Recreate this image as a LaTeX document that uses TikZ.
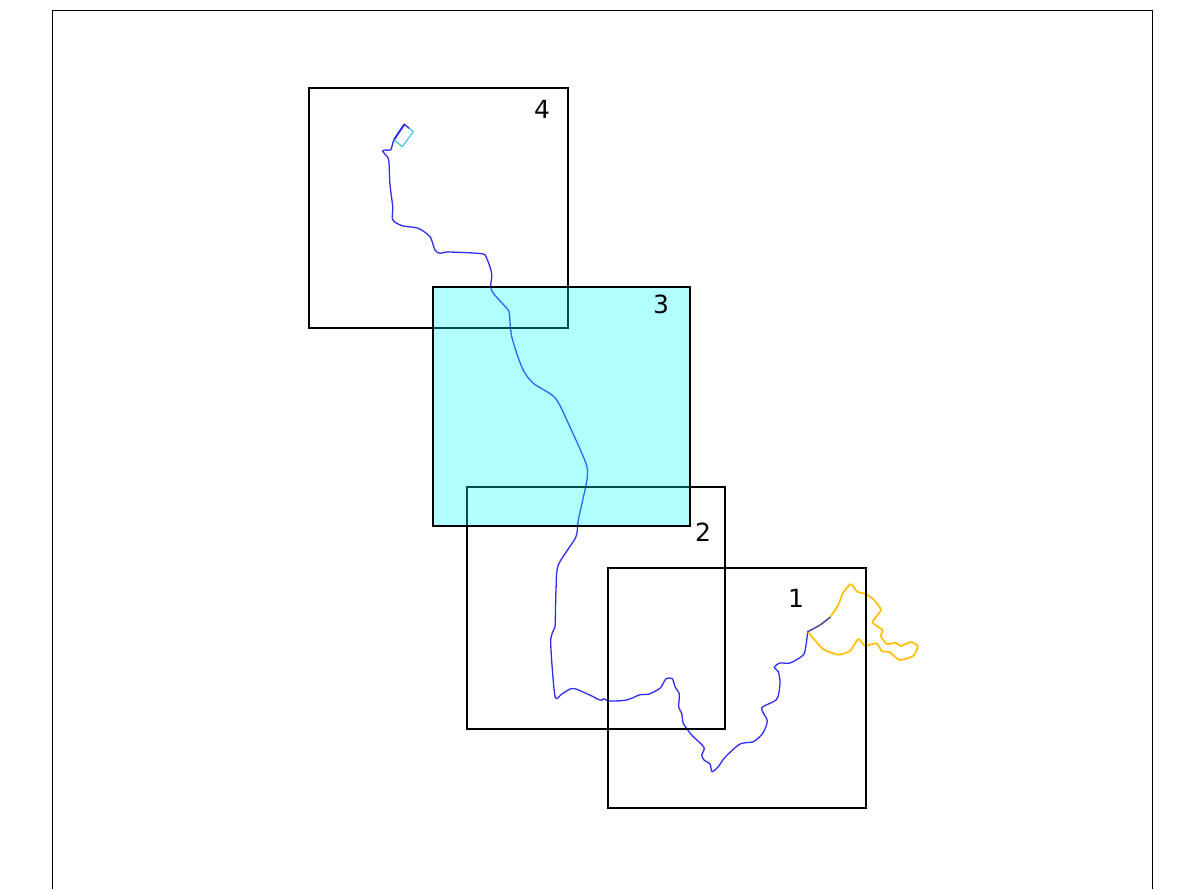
\documentclass[tikz,border=0pt]{standalone}
\usepackage{fontspec}
\setmainfont{DejaVu Sans}
\definecolor{routeblue}{RGB}{45,45,245}
\definecolor{routeorange}{RGB}{255,192,0}
\definecolor{routecyan}{RGB}{40,190,240}
\definecolor{routepurple}{RGB}{85,65,160}
\definecolor{tilecyan}{RGB}{0,255,255}
\tikzset{
  tile/.style={draw=black,line width=1.6pt},
  tilelabel/.style={inner sep=0pt,font=\fontsize{25}{25}\selectfont},
  route/.style={draw=routeblue,line width=1.3pt,line join=round,line cap=round},
}
\begin{document}
\begin{tikzpicture}[x=1pt,y=-1pt]
\useasboundingbox (0,0) rectangle (1177,889);
\fill[white] (0,0) rectangle (1177,889);
% frame
\draw[black,line width=0.8pt] (52,889) -- (52,10) -- (1152,10) -- (1152,889);
% route: blue
\draw[route] plot[smooth,tension=0.45] coordinates {
(404.3,124.3)(394.3,139.3)(392.3,145)(390.7,150)(385,150)(382.7,151)(385,154.3)(388.7,160)(390,185)(392.7,206.7)(392.3,218.3)(395,222.3)(403.3,226)(418.3,228.3)(430,236.7)(435,250)(440,253.3)(448.3,252)(481.7,253.7)(486.7,258.3)(491.7,273.3)(490.7,286.7)(493.3,293.3)(506.7,308.3)(509.3,313.3)(511.7,336.7)(522.3,368.3)(533.3,383.3)(555,397.7)(568.3,423.3)(586,463.3)(587.3,476.7)(585,490)(578.3,520)(575.7,537.3)(558.3,565)(556,590)(555.3,620)(555,626.7)(550.7,641.7)(555,696)(561.7,694)(570,689)(576,689)(593.3,696.7)(596.7,698.7)(601.7,700.3)(603.3,698.7)(610,701)(626.7,700)(640,694.7)(648.3,694.3)(660,688.3)(666,678.7)(672.3,678.7)(675,686.7)(679.3,694)(678.7,707.3)(681.7,713.3)(683.3,723.3)(691.7,735)(704,747.3)(701.7,755)(704,760)(710,764)(712,771.7)(718.3,766.7)(725,757.3)(740,744)(753.3,741.7)(762.7,733.3)(767.3,720.7)(761.7,708)(776.7,699.3)(780,683.3)(778.3,671.7)(774.3,667.3)(780,663)(790,663)(803.3,655)(806,645)(807.7,631.7)};
\draw[route,line width=1.8pt] (404.3,124.3) -- (394.3,139.3);
\draw[route] (404.3,124.3) -- (409.5,128.5);
% start box
\draw[routecyan,line width=1pt,line join=round] (409.5,128.5) -- (413.3,131.7) -- (402.3,146.7) -- (394.3,140);
% route: orange
\draw[routeorange,line width=1.7pt,line join=round] plot[smooth,tension=0.3] coordinates {
(830,617.3)(838.3,605)(842.7,593.3)(850.7,584)(857.3,591.7)(866.7,594.3)(874,600)(881,610)(872.3,622.3)(882.7,630)(880.7,635.7)(886.7,644)(896,642.7)(900.7,646)(910.7,642)(917.7,646)(913.3,656)(899.3,660)(890,652.3)(881.7,651)(876.7,643.3)(865,645.7)(858.3,639)(850,651)(838.3,654.7)(823.3,649.3)(807.7,631.7)};
\draw[routepurple,line width=1.5pt,line cap=round] plot[smooth] coordinates {(807.7,631.7)(820,625)(830,617.3)};
% tiles
\draw[tile] (309,88) rectangle (568,328);
\draw[tile] (467,487) rectangle (725,729);
\fill[tilecyan,opacity=0.3] (433,287) rectangle (690,526);
\draw[tile,line width=2.2pt] (433,287) rectangle (690,526);
\draw[tile] (608,568) rectangle (866,808);
% labels
\node[tilelabel] (lab4) at (542,109) {4};
\node[tilelabel] (lab3) at (661,304) {3};
\node[tilelabel] (lab2) at (703,532) {2};
\node[tilelabel] (lab1) at (796,598) {1};
\end{tikzpicture}
\end{document}
